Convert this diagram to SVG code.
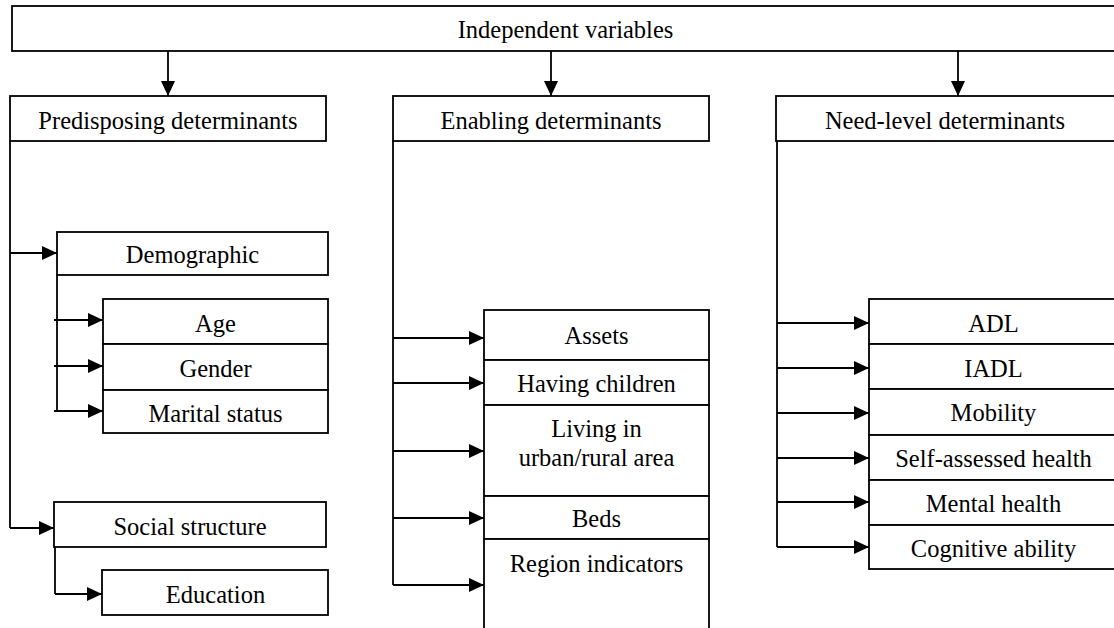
<svg xmlns="http://www.w3.org/2000/svg" width="1114" height="628" viewBox="0 0 1114 628">
<defs>
<marker id="ah" markerUnits="userSpaceOnUse" markerWidth="15" markerHeight="14" refX="15" refY="7" orient="auto" viewBox="0 0 15 14">
<path d="M0,0 L15,7 L0,14 Z" fill="#000"/>
</marker>
<style>
rect{fill:#fff;stroke:#000;stroke-width:1.8}
text{font-family:"Liberation Serif","Times New Roman",serif;font-size:24.5px;fill:#000;text-anchor:middle}
#connectors path{fill:none;stroke:#000;stroke-width:1.8}
#connectors .a{marker-end:url(#ah)}
</style>
</defs>
<rect x="0" y="0" width="1114" height="628" style="fill:#fff;stroke:none"/>
<g id="connectors">
<path class="a" d="M168,51 V96"/>
<path class="a" d="M551,51 V96"/>
<path class="a" d="M958,51 V96"/>
<path d="M10,141 V528"/>
<path class="a" d="M10,253 H57"/>
<path class="a" d="M10,528 H54"/>
<path d="M57,275 V411"/>
<path class="a" d="M54,320 H103"/>
<path class="a" d="M54,366 H103"/>
<path class="a" d="M54,411 H103"/>
<path d="M55,547 V594"/>
<path class="a" d="M55,594 H102"/>
<path d="M393,141 V585"/>
<path class="a" d="M393,338 H484"/>
<path class="a" d="M393,383 H484"/>
<path class="a" d="M393,451 H484"/>
<path class="a" d="M393,518 H484"/>
<path class="a" d="M393,585 H484"/>
<path d="M777,141 V547"/>
<path class="a" d="M777,323 H869"/>
<path class="a" d="M777,368 H869"/>
<path class="a" d="M777,413 H869"/>
<path class="a" d="M777,458 H869"/>
<path class="a" d="M777,502 H869"/>
<path class="a" d="M777,547 H869"/>
</g>
<g id="independent"><rect x="12" y="6" width="1107" height="45"/><text x="565.5" y="38">Independent variables</text></g>
<g id="predisposing"><rect x="10" y="96" width="316" height="45"/><text x="168" y="129">Predisposing determinants</text></g>
<g id="enabling"><rect x="393" y="96" width="316" height="45"/><text x="551" y="129">Enabling determinants</text></g>
<g id="need"><rect x="776" y="96" width="340" height="45"/><text x="945" y="129">Need-level determinants</text></g>
<g id="demographic"><rect x="57" y="232" width="271" height="43"/><text x="192.5" y="263">Demographic</text></g>
<g id="age"><rect x="103" y="299" width="225" height="45"/><text x="215.5" y="332">Age</text></g>
<g id="gender"><rect x="103" y="344" width="225" height="46"/><text x="215.5" y="377">Gender</text></g>
<g id="marital"><rect x="103" y="390" width="225" height="43"/><text x="215.5" y="422">Marital status</text></g>
<g id="social"><rect x="54" y="502" width="272" height="45"/><text x="190" y="535">Social structure</text></g>
<g id="education"><rect x="102" y="570" width="226" height="45"/><text x="215.5" y="603">Education</text></g>
<g id="assets"><rect x="484" y="310" width="225" height="50"/><text x="596.5" y="344">Assets</text></g>
<g id="children"><rect x="484" y="360" width="225" height="45"/><text x="596.5" y="392">Having children</text></g>
<g id="living"><rect x="484" y="405" width="225" height="91"/><text x="596.5" y="437">Living in</text><text x="596.5" y="466">urban/rural area</text></g>
<g id="beds"><rect x="484" y="496" width="225" height="43"/><text x="596.5" y="527">Beds</text></g>
<g id="region"><rect x="484" y="539" width="225" height="100"/><text x="596.5" y="572">Region indicators</text></g>
<g id="adl"><rect x="869" y="299" width="250" height="45"/><text x="993.5" y="332">ADL</text></g>
<g id="iadl"><rect x="869" y="344" width="250" height="45"/><text x="993.5" y="377">IADL</text></g>
<g id="mobility"><rect x="869" y="389" width="250" height="46"/><text x="993.5" y="421">Mobility</text></g>
<g id="selfhealth"><rect x="869" y="435" width="250" height="45"/><text x="993.5" y="467">Self-assessed health</text></g>
<g id="mental"><rect x="869" y="480" width="250" height="45"/><text x="993.5" y="512">Mental health</text></g>
<g id="cognitive"><rect x="869" y="525" width="250" height="44"/><text x="993.5" y="557">Cognitive ability</text></g>
</svg>
